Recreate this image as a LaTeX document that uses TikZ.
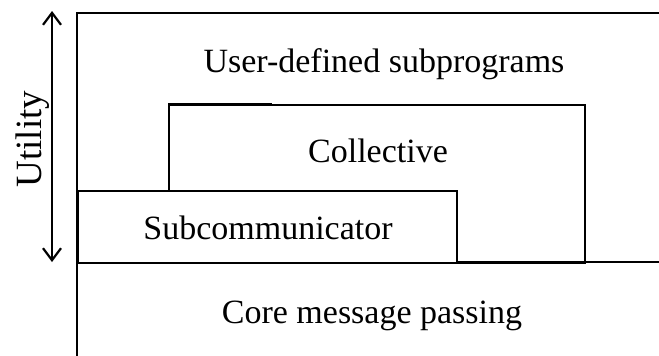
\documentclass[tikz,border=0pt]{standalone}
\usepackage{fontspec}
\setmainfont{Liberation Serif}
\usetikzlibrary{arrows.meta}
\begin{document}
\begin{tikzpicture}[x=1pt,y=-1pt,line width=2pt,
  lbl/.style={font=\fontsize{34}{40}\selectfont,inner sep=0pt,anchor=base},
  box/.style={draw,line width=2.2pt,inner sep=0pt,anchor=north west},
  utilarrow/.style={{Straight Barb[length=12pt,width=18pt,line width=2.2pt]}-{Straight Barb[length=12pt,width=18pt,line width=2.2pt]},line width=2pt}]
\useasboundingbox (0,0) rectangle (659,356);
% outer frame (user-defined subprograms region)
\coordinate (fbl) at (77,356);
\coordinate (ftl) at (77,13);
\coordinate (ftr) at (659,13);
\draw (fbl) -- (ftl) -- (ftr);
% separator for core message passing
\coordinate (sl) at (77,262);
\coordinate (sr) at (659,262);
\draw (sl) -- (sr);
% collective box
\node[box,minimum width=416pt,minimum height=158pt] (coll) at (168,104) {};
\draw[line width=3pt] (coll.north west) -- ++(104,0);
% subcommunicator box
\node[box,line width=2pt,fill=white,minimum width=379pt,minimum height=72pt] (subc) at (77,190) {};
% utility arrow
\coordinate (atop) at (52,11);
\coordinate (abot) at (52,262);
\draw[utilarrow] (abot) -- (atop);
% labels
\node[lbl] (user) at (384,72) {User-defined subprograms};
\node[lbl] (colltxt) at (378,162) {Collective};
\node[lbl] (subctxt) at (268,239) {Subcommunicator};
\node[lbl] (core) at (372,323) {Core message passing};
\node[lbl,rotate=90,font=\fontsize{37}{44}\selectfont] (util) at (41,139) {Utility};
\end{tikzpicture}
\end{document}
